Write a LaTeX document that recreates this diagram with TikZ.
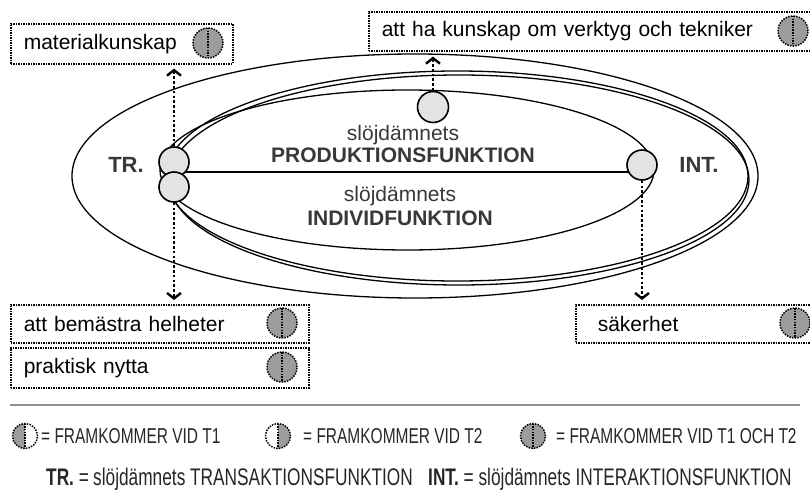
\documentclass[tikz,border=0pt]{standalone}
\usepackage{fontspec}
\setmainfont{Liberation Sans}
\newfontfamily\narrowsans[FakeStretch=0.72]{Liberation Sans}
\usetikzlibrary{arrows.meta,backgrounds}

\definecolor{hubfill}{HTML}{E3E3E3}
\definecolor{tokfill}{HTML}{9C9C9C}
\definecolor{inktext}{HTML}{383838}
\definecolor{rulegray}{HTML}{8E8E8E}

\tikzset{
  ring/.style={draw=black, line width=1.3pt},
  hub/.style={circle, draw=black, line width=1.6pt, fill=hubfill, inner sep=0pt, minimum size=30pt},
  labelbox/.style={draw=black, line width=1.6pt, dash pattern=on 1.5pt off 1pt,
    minimum height=40pt, inner xsep=13pt, inner ysep=0pt, anchor=north west,
    align=left, font=\fontsize{21}{24}\selectfont},
  tokdots/.style={black, line width=1.5pt, dash pattern=on 1.5pt off 1.2pt},
  token/.style={circle, inner sep=0pt, minimum size=30pt, draw=black, line width=1.5pt,
    dash pattern=on 1.5pt off 1.2pt},
  tokenfull/.style={token, fill=tokfill,
    path picture={\draw[tokdots] (path picture bounding box.north) -- (path picture bounding box.south);}},
  tokenleft/.style={token,
    path picture={\fill[tokfill] (path picture bounding box.north west) rectangle (path picture bounding box.south);
      \draw[tokdots] (path picture bounding box.north) -- (path picture bounding box.south);}},
  tokenright/.style={token,
    path picture={\fill[tokfill] (path picture bounding box.north) rectangle (path picture bounding box.south east);
      \draw[tokdots] (path picture bounding box.north) -- (path picture bounding box.south);}},
  linkline/.style={line width=2.6pt, dash pattern=on 2.6pt off 2.2pt,
    -{Straight Barb[length=5.5pt, width=14pt, line width=2.4pt]}},
  midlabel/.style={text=inktext, font=\fontsize{21}{24}\selectfont},
  midbold/.style={text=inktext, font=\fontsize{21}{24}\selectfont\bfseries},
  endlabel/.style={text=inktext, font=\fontsize{22}{24}\selectfont\bfseries},
  keytext/.style={anchor=base west, text=black!85, font=\narrowsans\fontsize{21.5}{24}\selectfont, inner sep=0pt},
  keytextb/.style={anchor=base west, text=black!85, font=\narrowsans\fontsize{24}{26}\selectfont, inner sep=0pt},
}

\begin{document}
\begin{tikzpicture}[x=1pt, y=-1pt]
\useasboundingbox (0,0) rectangle (810,492);
\clip (0,0) rectangle (810,492);

% hubs on the axis
\node[hub] (tr1) at (174,162) {};
\node[hub] (tr2) at (174,187) {};
\node[hub, minimum width=30pt, minimum height=29pt] (int) at (642,165) {};
\node[hub, minimum size=31pt] (top) at (433,107) {};
\coordinate (axis) at (174,172);

% the three rings and the axis line, behind the hubs
\begin{pgfonlayer}{background}
  \draw[ring] (415,176) ellipse [x radius=343, y radius=122];
  \draw[ring] (457,176) ellipse [x radius=291, y radius=105];
  \draw[ring] (459,180) ellipse [x radius=290, y radius=105];
  \draw[ring] (407,170) ellipse [x radius=247, y radius=80];
  \draw[ring] (axis) -- (axis -| int);
\end{pgfonlayer}

% labels inside the rings
\node[midlabel] (p1) at (403,135) {slöjdämnets};
\node[midbold]  (p2) at (403,155) {PRODUKTIONSFUNKTION};
\node[midlabel] (i1) at (400,196) {slöjdämnets};
\node[midbold]  (i2) at (400,218) {INDIVIDFUNKTION};
\node[endlabel] (trl) at (126,165) {TR.};
\node[endlabel] (intl) at (699,165) {INT.};

% outcome boxes
\node[labelbox, minimum width=222pt, text width=196pt] (mat) at (10,23) {materialkunskap};
\node[labelbox, minimum width=445pt, text width=419pt, minimum height=39pt] (kun) at (368,11) {att ha kunskap om verktyg och tekniker};
\node[labelbox, minimum width=298pt, text width=272pt, minimum height=38pt] (bem) at (10,304) {att bemästra helheter};
\node[labelbox, minimum width=298pt, text width=272pt] (pra) at (10,347) {praktisk nytta};
\node[labelbox, minimum width=238pt, text width=194pt, minimum height=38pt, inner xsep=22pt] (sak) at (575,304) {säkerhet};

\node[tokenfull] (mat-t) at (208,43) {};
\node[tokenfull] (kun-t) at (793,31) {};
\node[tokenfull] (bem-t) at (282,323) {};
\node[tokenfull] (pra-t) at (282,367) {};
\node[tokenfull] (sak-t) at (795,323) {};

% links from the hubs to the boxes
\draw[linkline, shorten >=4pt] (tr1.north) -- (tr1.north |- mat.south);
\draw[linkline, shorten >=5pt] (top.north) -- (top.north |- kun.south);
\draw[linkline, shorten >=4pt] (tr2.south) -- (tr2.south |- bem.north);
\draw[linkline, shorten >=4pt] (int.south) -- (int.south |- sak.north);

% separator
\coordinate (rl) at (10,405);
\coordinate (rr) at (800,405);
\draw[rulegray, line width=1.4pt] (rl) -- (rr);

% key
\node[tokenleft, minimum size=25pt] (k1) at (25,436) {};
\node[keytext] (k1t) at (41,443) {= FRAMKOMMER VID T1};
\node[tokenright, minimum size=25pt] (k2) at (278,436) {};
\node[keytext] (k2t) at (303,443) {= FRAMKOMMER VID T2};
\node[tokenfull, minimum size=25pt] (k3) at (533,436) {};
\node[keytext] (k3t) at (556,443) {= FRAMKOMMER VID T1 OCH T2};

\node[keytextb] (d1) at (46,485) {\bfseries TR.\mdseries\ =};
\node[keytextb] (d2) at (93,485) {slöjdämnets TRANSAKTIONSFUNKTION};
\node[keytextb] (d3) at (428,485) {\bfseries INT.\mdseries\ = slöjdämnets INTERAKTIONSFUNKTION};
\end{tikzpicture}
\end{document}
